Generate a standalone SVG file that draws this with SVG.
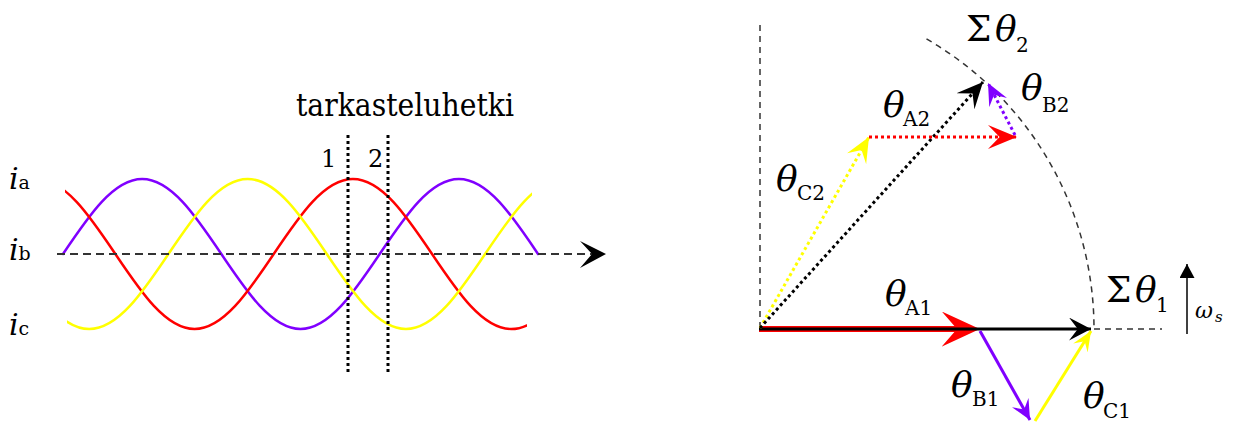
<svg xmlns="http://www.w3.org/2000/svg" width="1235" height="423" viewBox="0 0 1235 423">
<style>
.it{font-style:italic}
.th{font-size:36px}
.sub{font-size:20px}
.wave{fill:none;stroke-width:2.5;stroke-linecap:round}
.dash{fill:none;stroke:#333;stroke-width:1.5;stroke-dasharray:6 5}
.dot{fill:none;stroke-width:3;stroke-dasharray:3 3}
</style>
<defs>
<clipPath id="clipRed"><rect x="65" y="150" width="462" height="200"/></clipPath>
<clipPath id="clipYel"><rect x="67" y="150" width="465" height="200"/></clipPath>
<marker id="mRedBig" viewBox="0 0 10 10" refX="4" refY="5" markerUnits="userSpaceOnUse" markerWidth="38" markerHeight="35" orient="auto" preserveAspectRatio="none"><path d="M0,0 L10,5 L0,10 L4,5 z" fill="#ff0000"/></marker>
<marker id="mBlack" viewBox="0 0 10 10" refX="10" refY="5" markerUnits="userSpaceOnUse" markerWidth="22" markerHeight="23" orient="auto" preserveAspectRatio="none"><path d="M0,0 L10,5 L0,10 L4,5 z" fill="#000"/></marker>
<marker id="mPurple" viewBox="0 0 10 10" refX="10" refY="5" markerUnits="userSpaceOnUse" markerWidth="20" markerHeight="19" orient="auto" preserveAspectRatio="none"><path d="M0,0 L10,5 L0,10 L4,5 z" fill="#8000ff"/></marker>
<marker id="mYellow" viewBox="0 0 10 10" refX="10" refY="5" markerUnits="userSpaceOnUse" markerWidth="20" markerHeight="17" orient="auto" preserveAspectRatio="none"><path d="M0,0 L10,5 L0,10 L4,5 z" fill="#ffff00"/></marker>
<marker id="mYellowD" viewBox="0 0 10 10" refX="10" refY="5" markerUnits="userSpaceOnUse" markerWidth="25" markerHeight="22" orient="auto" preserveAspectRatio="none"><path d="M0,0 L10,5 L0,10 L4,5 z" fill="#ffff00"/></marker>
<marker id="mRedD" viewBox="0 0 10 10" refX="10" refY="5" markerUnits="userSpaceOnUse" markerWidth="29" markerHeight="24" orient="auto" preserveAspectRatio="none"><path d="M0,0 L10,5 L0,10 L4,5 z" fill="#ff0000"/></marker>
<marker id="mPurpleD" viewBox="0 0 10 10" refX="10" refY="5" markerUnits="userSpaceOnUse" markerWidth="22" markerHeight="20" orient="auto" preserveAspectRatio="none"><path d="M0,0 L10,5 L0,10 L4,5 z" fill="#8000ff"/></marker>
<marker id="mBlackD" viewBox="0 0 10 10" refX="10" refY="5" markerUnits="userSpaceOnUse" markerWidth="26" markerHeight="24" orient="auto" preserveAspectRatio="none"><path d="M0,0 L10,5 L0,10 L4,5 z" fill="#000"/></marker>
<marker id="mTri" viewBox="0 0 10 10" refX="10" refY="5" markerUnits="userSpaceOnUse" markerWidth="14" markerHeight="15" orient="auto" preserveAspectRatio="none"><path d="M0,0 L10,5 L0,10 z" fill="#000"/></marker>
</defs>

<g id="waveforms">
<path id="wave-purple" class="wave" stroke="#8000ff" d="M63,254 c25.82,-38.42 50.52,-75 79.17,-75 c28.65,0 53.35,36.58 79.17,75 c25.82,38.42 50.52,75 79.17,75 c28.65,0 53.35,-36.58 79.17,-75 c25.82,-38.42 50.52,-75 79.17,-75 c28.65,0 53.35,36.58 79.17,75"/>
<path id="wave-red" class="wave" stroke="#ff0000" clip-path="url(#clipRed)" d="M36.2,179 c28.65,0 53.35,36.58 79.17,75 c25.82,38.42 50.52,75 79.17,75 c28.65,0 53.35,-36.58 79.17,-75 c25.82,-38.42 50.52,-75 79.17,-75 c28.65,0 53.35,36.58 79.17,75 c25.82,38.42 50.52,75 79.17,75 c28.65,0 53.35,-36.58 79.17,-75"/>
<path id="wave-yellow" class="wave" stroke="#ffff00" clip-path="url(#clipYel)" d="M10.1,254 c25.82,38.42 50.52,75 79.17,75 c28.65,0 53.35,-36.58 79.17,-75 c25.82,-38.42 50.52,-75 79.17,-75 c28.65,0 53.35,36.58 79.17,75 c25.82,38.42 50.52,75 79.17,75 c28.65,0 53.35,-36.58 79.17,-75 c25.82,-38.42 50.52,-75 79.17,-75"/>
</g>

<g id="time-axis">
<line x1="57" y1="254" x2="592" y2="254" stroke="#333" stroke-width="2" stroke-dasharray="8 5"/>
<polygon points="580,241 606,254 580,268 592,254" fill="#000"/>
</g>

<g fill="#000" font-family="'DejaVu Serif', 'Liberation Serif', serif">
<g id="instants">
<line x1="348" y1="135" x2="348" y2="372" stroke="#000" stroke-width="3" stroke-dasharray="3 3"/>
<line x1="388" y1="135" x2="388" y2="372" stroke="#000" stroke-width="3" stroke-dasharray="3 3"/>
<text x="296" y="116" font-size="32" textLength="218" lengthAdjust="spacingAndGlyphs">tarkasteluhetki</text>
<text x="321" y="167" font-size="24">1</text>
<text x="368" y="167" font-size="24">2</text>
</g>

<g id="labels-left">
<text x="9" y="189"><tspan class="it" font-size="30">i</tspan><tspan font-size="19">a</tspan></text>
<text x="9" y="260"><tspan class="it" font-size="30">i</tspan><tspan font-size="19">b</tspan></text>
<text x="9" y="335"><tspan class="it" font-size="30">i</tspan><tspan font-size="19">c</tspan></text>
</g>

<g id="labels-right">
<g id="lbl-sum2"><text class="th" x="966" y="41">Σ</text><text class="th it" x="995" y="41">θ</text><text class="sub" x="1016" y="52">2</text></g>
<g id="lbl-B2"><text class="th it" x="1021" y="100">θ</text><text class="sub" x="1042" y="112">B2</text></g>
<g id="lbl-A2"><text class="th it" x="883" y="117">θ</text><text class="sub" x="903" y="126">A2</text></g>
<g id="lbl-C2"><text class="th it" x="776" y="191">θ</text><text class="sub" x="797" y="200">C2</text></g>
<g id="lbl-A1"><text class="th it" x="885" y="306">θ</text><text class="sub" x="905" y="315">A1</text></g>
<g id="lbl-B1"><text class="th it" x="951" y="397">θ</text><text class="sub" x="972" y="406">B1</text></g>
<g id="lbl-C1"><text class="th it" x="1083" y="408">θ</text><text class="sub" x="1103" y="418">C1</text></g>
<g id="lbl-sum1"><text class="th" x="1106" y="302">Σ</text><text class="th it" x="1135" y="302">θ</text><text class="sub" x="1156" y="312">1</text></g>
<g id="lbl-omega"><text class="it" x="1195" y="318" font-size="22">ω</text><text class="it" x="1215" y="322" font-size="15">s</text></g>
</g>
</g>

<g id="reference-lines">
<line class="dash" x1="760" y1="25" x2="760" y2="329"/>
<path class="dash" d="M926.5,38.9 A335,335 0 0 1 1094,329"/>
<line class="dash" x1="1094" y1="329" x2="1162" y2="329"/>
</g>

<g id="connectors">
<line id="vec-A1" x1="759" y1="329" x2="957" y2="329" stroke="#ff0000" stroke-width="6" marker-end="url(#mRedBig)"/>
<line id="vec-sum1" x1="759" y1="329" x2="1091" y2="329" stroke="#000" stroke-width="3" marker-end="url(#mBlack)"/>
<line id="vec-B1" x1="980" y1="331" x2="1030" y2="420" stroke="#8000ff" stroke-width="3" marker-end="url(#mPurple)"/>
<line id="vec-C1" x1="1035" y1="421" x2="1091" y2="331" stroke="#ffff00" stroke-width="3" marker-end="url(#mYellow)"/>
<line id="vec-C2" class="dot" stroke="#ffff00" x1="760" y1="328" x2="869" y2="137" marker-end="url(#mYellowD)"/>
<line id="vec-sum2" class="dot" stroke="#000" x1="760" y1="328" x2="983" y2="82" marker-end="url(#mBlackD)"/>
<line id="vec-A2" class="dot" stroke="#ff0000" x1="869" y1="137" x2="1017" y2="137" marker-end="url(#mRedD)"/>
<line id="vec-B2" class="dot" stroke="#8000ff" x1="1015" y1="135" x2="988" y2="83" marker-end="url(#mPurpleD)"/>
<line id="omega-arrow" x1="1187" y1="334" x2="1187" y2="264" stroke="#000" stroke-width="1.5" marker-end="url(#mTri)"/>
</g>
</svg>
